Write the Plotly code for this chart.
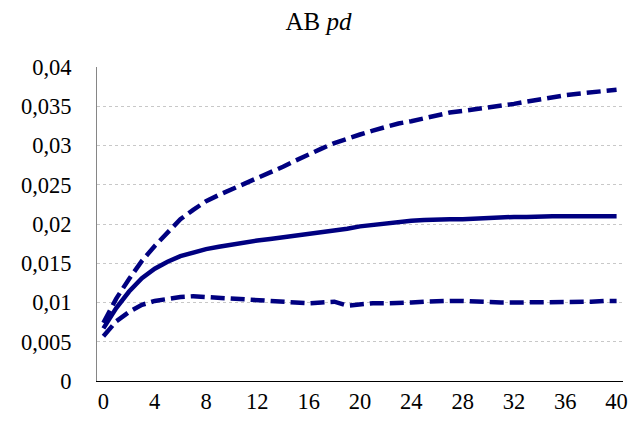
import plotly.graph_objects as go

periods = list(range(41))
mean_irf = [0.0067, 0.0093, 0.0114, 0.0131, 0.0143, 0.0152, 0.0159, 0.0164, 0.0168, 0.0171,
            0.0174, 0.0176, 0.0179, 0.0181, 0.0183, 0.0185, 0.0188, 0.0190, 0.0192, 0.0194,
            0.0197, 0.0199, 0.0201, 0.0203, 0.0204, 0.0205, 0.0206, 0.0206, 0.0206, 0.0207,
            0.0207, 0.0208, 0.0209, 0.0209, 0.0210, 0.0210, 0.0210, 0.0210, 0.0210, 0.0210,
            0.0210]
upper_band = [0.0074, 0.0105, 0.0130, 0.0153, 0.0172, 0.0190, 0.0206, 0.0218, 0.0229, 0.0237,
              0.0244, 0.0251, 0.0258, 0.0266, 0.0273, 0.0281, 0.0289, 0.0296, 0.0303, 0.0309,
              0.0314, 0.0319, 0.0324, 0.0328, 0.0331, 0.0335, 0.0339, 0.0342, 0.0344, 0.0346,
              0.0348, 0.0350, 0.0353, 0.0356, 0.0359, 0.0362, 0.0364, 0.0366, 0.0368, 0.0369,
              0.0371]
lower_band = [0.0057, 0.0076, 0.0088, 0.0097, 0.0102, 0.0105, 0.0107, 0.0108, 0.0107, 0.0106,
              0.0105, 0.0104, 0.0103, 0.0102, 0.0101, 0.0100, 0.0099, 0.0100, 0.0101, 0.0096,
              0.0098, 0.0099, 0.0099, 0.0099, 0.0100, 0.0101, 0.0102, 0.0102, 0.0102, 0.0101,
              0.0101, 0.0100, 0.0100, 0.0100, 0.0100, 0.0100, 0.0100, 0.0100, 0.0101, 0.0102,
              0.0102]

y_tickvals = [0, 0.005, 0.01, 0.015, 0.02, 0.025, 0.03, 0.035, 0.04]
y_ticktext = ["0", "0,005", "0,01", "0,015", "0,02", "0,025", "0,03", "0,035", "0,04"]
x_tickvals = [0, 4, 8, 12, 16, 20, 24, 28, 32, 36, 40]
x_ticktext = ["0", "4", "8", "12", "16", "20", "24", "28", "32", "36", "40"]

navy = "#000080"
font_family = "Times New Roman"

fig = go.Figure()
fig.add_trace(go.Scatter(x=periods, y=upper_band, mode="lines",
                         line=dict(color=navy, width=4.5, dash="14px,6px"), hoverinfo="skip"))
fig.add_trace(go.Scatter(x=periods, y=lower_band, mode="lines",
                         line=dict(color=navy, width=4.5, dash="14px,6px"), hoverinfo="skip"))
fig.add_trace(go.Scatter(x=periods, y=mean_irf, mode="lines",
                         line=dict(color=navy, width=4.5), hoverinfo="skip"))

fig.update_layout(
    width=637, height=432,
    showlegend=False,
    paper_bgcolor="white", plot_bgcolor="white",
    margin=dict(l=97, r=9, t=67, b=51),
    font=dict(family=font_family, size=22, color="black"),
    title=dict(text="AB <i>pd</i>", x=0.5, xanchor="center", y=0.95, yanchor="middle",
               font=dict(family=font_family, size=25, color="black")),
)
fig.update_xaxes(range=[-0.5, 40.5], tickvals=x_tickvals, ticktext=x_ticktext,
                 showgrid=False, zeroline=False, showline=True, linecolor="black", linewidth=1,
                 ticks="", tickfont=dict(family=font_family, size=22.5, color="black"))
fig.update_yaxes(range=[0, 0.04], tickvals=y_tickvals, ticktext=y_ticktext,
                 showgrid=True, gridcolor="#c8c8c8", griddash="dot", gridwidth=1,
                 zeroline=False, showline=True, linecolor="#868686", linewidth=1,
                 ticks="outside", ticklen=20, tickcolor="rgba(0,0,0,0)",
                 tickfont=dict(family=font_family, size=22.5, color="black"))

fig.write_html("out.html", config={"displayModeBar": False},
               post_script="document.body.style.margin='0';")
